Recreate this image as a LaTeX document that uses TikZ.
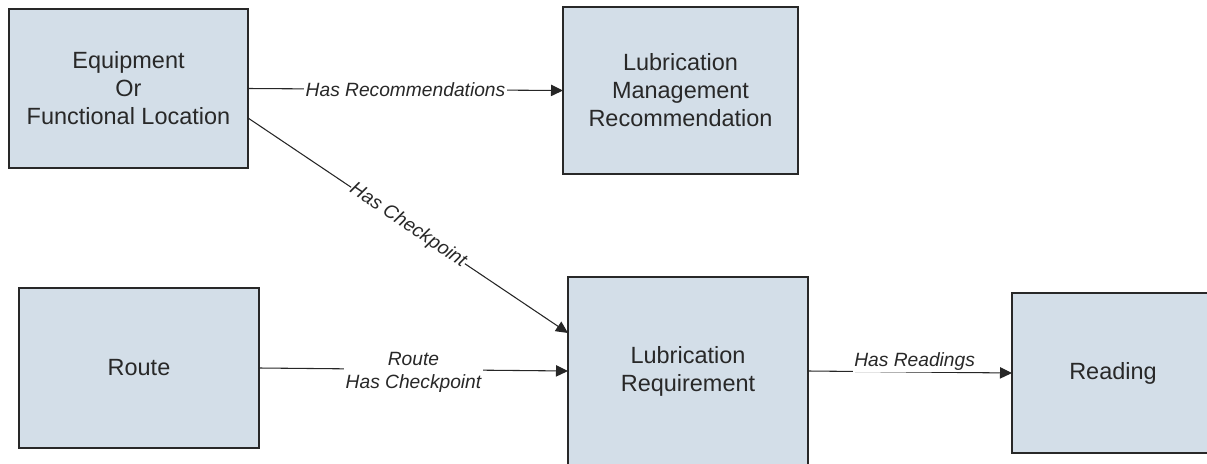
\documentclass[tikz,border=0pt]{standalone}
\usepackage{fontspec}
\setmainfont{Liberation Sans}
\usetikzlibrary{arrows.meta}
\definecolor{boxfill}{RGB}{211,222,232}
\definecolor{boxline}{RGB}{40,40,40}
\definecolor{txt}{RGB}{40,40,40}
\begin{document}
\begin{tikzpicture}[x=0.75pt,y=-0.75pt,
  box/.style={draw=boxline, fill=boxfill, line width=1.1pt, align=center, text=txt,
    font=\fontsize{17.6pt}{21pt}\selectfont, inner sep=0pt, outer sep=0pt},
  conn/.style={draw=black!85, line width=0.8pt, -{Triangle[length=9pt,width=8.5pt]}},
  lbl/.style={fill=white, inner sep=1pt, text=txt, align=center,
    font=\fontsize{14.4pt}{17.25pt}\selectfont\itshape}]
\useasboundingbox (0,0) rectangle (1207,464);
\clip (0,0) rectangle (1207,464);
\node[box, minimum width=179.25pt, minimum height=119.25pt] (eq) at (128.5,88.5) {Equipment\\Or\\Functional Location};
\node[box, minimum width=176.25pt, minimum height=125.25pt] (lmr) at (680.5,90.5) {Lubrication\\Management\\Recommendation};
\node[box, minimum width=180pt, minimum height=120pt] (route) at (139,368) {Route};
\node[box, minimum width=180pt, minimum height=141pt] (lr) at (688,371) {Lubrication\\Requirement};
\node[box, minimum width=151.5pt, minimum height=120pt] (rd) at (1113,373) {Reading};
\draw[conn] (eq.east) -- node[lbl] {Has Recommendations} (lmr.west);
\draw[conn] ([yshift=-22.1pt]eq.east) -- node[lbl, sloped, inner sep=0.5pt] {Has Checkpoint} ([yshift=28.5pt]lr.west);
\draw[conn] (route.east) -- node[lbl, yshift=-2pt] {Route\\Has Checkpoint} (lr.west);
\draw[conn] (lr.east) -- node[lbl, yshift=8pt, xshift=3.5pt] {Has Readings} (rd.west);
\end{tikzpicture}
\end{document}
